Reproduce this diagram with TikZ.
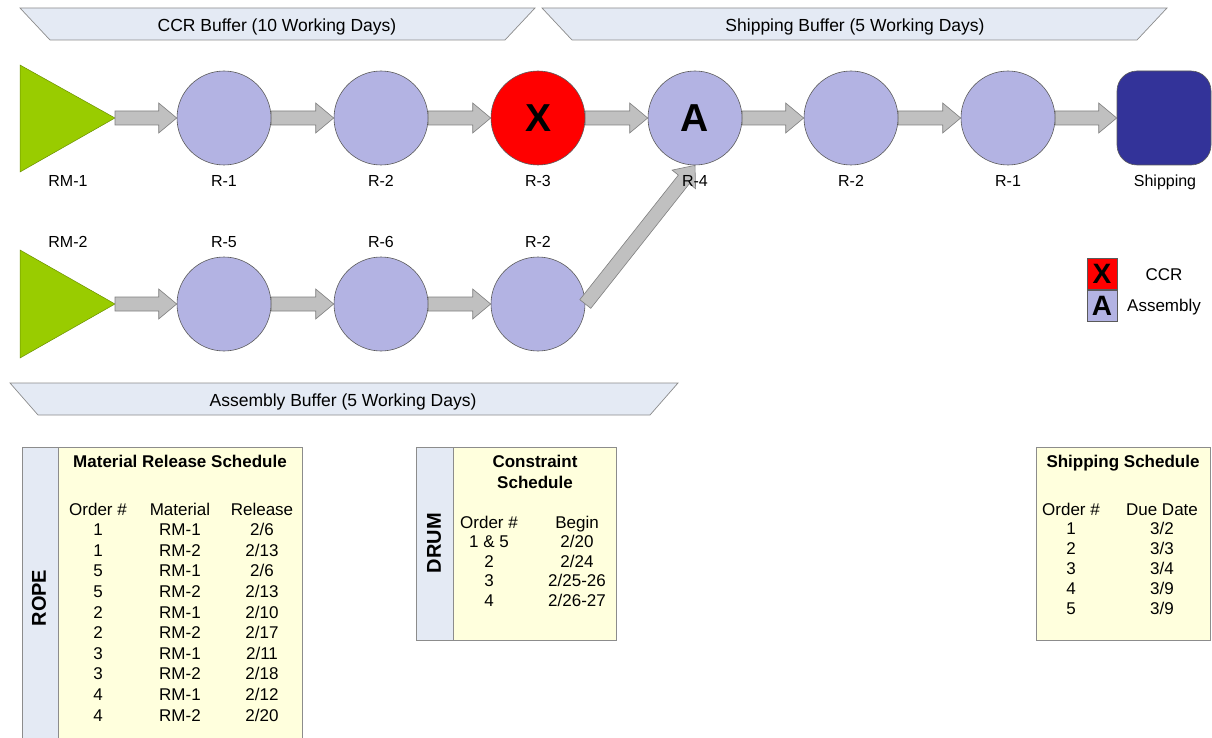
\documentclass[tikz,border=0pt]{standalone}
\usepackage{fontspec}
\setmainfont{Liberation Sans}
\usetikzlibrary{calc}
\definecolor{bannerfill}{HTML}{E4EAF4}
\definecolor{banneredge}{HTML}{8C8C8C}
\definecolor{rawgreen}{HTML}{99CC00}
\definecolor{lavender}{HTML}{B3B3E3}
\definecolor{navy}{HTML}{333399}
\definecolor{arrowfill}{HTML}{C0C0C0}
\definecolor{arrowedge}{HTML}{808080}
\definecolor{stationedge}{HTML}{5A5A5A}
\definecolor{tableyellow}{HTML}{FFFFDD}
\definecolor{tableedge}{HTML}{8C8C8C}

% block arrow from #1 to #2 (shaft half width 7, head half width 15, head length 18)
\newcommand\blockarr[2]{%
  \coordinate (ba-s) at (#1);
  \coordinate (ba-t) at (#2);
  \coordinate (ba-b) at ($(ba-t)!18pt!(ba-s)$);
  \draw[blockarrow]
    ($(ba-s)!7pt!90:(ba-t)$) -- ($(ba-b)!7pt!-90:(ba-s)$) --
    ($(ba-b)!15pt!-90:(ba-s)$) -- (ba-t) --
    ($(ba-b)!15pt!90:(ba-s)$) -- ($(ba-b)!7pt!90:(ba-s)$) --
    ($(ba-s)!7pt!-90:(ba-t)$) -- cycle;}

\begin{document}
\begin{tikzpicture}[x=1pt,y=-1pt,
  lbl/.style={anchor=base, inner sep=0pt, font=\fontsize{16}{19}\selectfont},
  bannertext/.style={anchor=base, inner sep=0pt, font=\fontsize{17.5}{20}\selectfont},
  tbl/.style={anchor=base, inner sep=0pt, font=\fontsize{17}{20}\selectfont},
  tblhead/.style={anchor=base, inner sep=0pt, font=\bfseries\fontsize{17}{20}\selectfont},
  sidelabel/.style={rotate=90, inner sep=0pt, font=\bfseries\fontsize{20}{24}\selectfont},
  station/.style={circle, minimum size=94pt, inner sep=0pt, draw=stationedge,
    line width=0.6pt, fill=lavender, font=\bfseries\fontsize{39}{44}\selectfont},
  banner/.style={fill=bannerfill, draw=banneredge, line width=0.7pt},
  material/.style={fill=rawgreen, draw=rawgreen!70!black, line width=0.5pt},
  blockarrow/.style={fill=arrowfill, draw=arrowedge, line width=0.6pt, line join=miter},
  legbox/.style={draw=stationedge, line width=0.6pt, minimum width=30pt,
    minimum height=31pt, inner sep=0pt, font=\bfseries\fontsize{28}{30}\selectfont},
  tablebox/.style={draw=tableedge, line width=0.7pt}]
\useasboundingbox (0,0) rectangle (1212,738);

% ---- buffers ----
\draw[banner] (20,8) -- (535,8) -- (505,40) -- (50,40) -- cycle;
\node[bannertext] (ccrbuf) at (277,32) {CCR Buffer (10 Working Days)};
\draw[banner] (542,8) -- (1167,8) -- (1137,40) -- (572,40) -- cycle;
\node[bannertext] (shipbuf) at (855,32) {Shipping Buffer (5 Working Days)};
\draw[banner] (10,383) -- (678,383) -- (650,415) -- (38,415) -- cycle;
\node[bannertext] (asmbuf) at (343,406) {Assembly Buffer (5 Working Days)};

% ---- main line ----
\draw[material] (20,65) -- (115,118) -- (20,172) -- cycle;
\coordinate (rm1) at (115,118);
\node[station] (r1) at (224,118) {};
\node[station] (r2) at (381,118) {};
\node[station, fill=red] (r3) at (538,118) {X};
\node[station] (r4) at (695,118) {A};
\node[station] (r2s) at (851,118) {};
\node[station] (r1s) at (1008,118) {};
\node[draw=stationedge, line width=0.6pt, fill=navy, minimum width=94pt,
  minimum height=94pt, rounded corners=20pt] (ship) at (1164,118) {};

% ---- feeder line ----
\draw[material] (20,250) -- (115,304) -- (20,358) -- cycle;
\coordinate (rm2) at (115,304);
\node[station] (r5) at (224,304) {};
\node[station] (r6) at (381,304) {};
\node[station] (r2a) at (538,304) {};

% ---- flow arrows ----
\blockarr{rm1}{r1.west}
\blockarr{r1.east}{r2.west}
\blockarr{r2.east}{r3.west}
\blockarr{r3.east}{r4.west}
\blockarr{r4.east}{r2s.west}
\blockarr{r2s.east}{r1s.west}
\blockarr{r1s.east}{ship.west}
\blockarr{rm2}{r5.west}
\blockarr{r5.east}{r6.west}
\blockarr{r6.east}{r2a.west}
\blockarr{r2a.east}{r4.south}

% ---- resource labels ----
\node[lbl] (l-rm1) at (68,187) {RM-1};
\node[lbl] (l-r1) at (224,187) {R-1};
\node[lbl] (l-r2) at (381,187) {R-2};
\node[lbl] (l-r3) at (538,187) {R-3};
\node[lbl] (l-r4) at (695,187) {R-4};
\node[lbl] (l-r2s) at (851,187) {R-2};
\node[lbl] (l-r1s) at (1008,187) {R-1};
\node[lbl] (l-ship) at (1165,187) {Shipping};
\node[lbl] (l-rm2) at (68,247) {RM-2};
\node[lbl] (l-r5) at (224,247) {R-5};
\node[lbl] (l-r6) at (381,247) {R-6};
\node[lbl] (l-r2a) at (538,247) {R-2};

% ---- legend ----
\node[legbox, fill=red] (legx) at (1102,274) {X};
\node[legbox, fill=lavender, anchor=north] (lega) at (legx.south) {A};
\node[tbl] (legccr) at (1164,280) {CCR};
\node[tbl] (legasm) at (1164,311) {Assembly};

% ---- rope: material release schedule ----
\fill[tableyellow] (58,447) rectangle (302,745);
\fill[bannerfill] (22,447) rectangle (58,745);
\draw[tablebox] (22,447) rectangle (302,745);
\draw[tablebox] (58,447) -- (58,745);
\node[sidelabel] (rope) at (39,598) {ROPE};
\node[tblhead] (ropehead) at (180,467) {Material Release Schedule};
\node[tbl] (rope-h1) at (98,515) {Order \#};
\node[tbl] (rope-h2) at (180,515) {Material};
\node[tbl] (rope-h3) at (262,515) {Release};
\foreach \o/\m/\r [count=\i] in {1/RM-1/{2/6},1/RM-2/{2/13},5/RM-1/{2/6},
    5/RM-2/{2/13},2/RM-1/{2/10},2/RM-2/{2/17},3/RM-1/{2/11},3/RM-2/{2/18},
    4/RM-1/{2/12},4/RM-2/{2/20}}{
  \node[tbl] (rope-o\i) at (98,{515+20.6*\i}) {\o};
  \node[tbl] (rope-m\i) at (180,{515+20.6*\i}) {\m};
  \node[tbl] (rope-r\i) at (262,{515+20.6*\i}) {\r};
}

% ---- drum: constraint schedule ----
\fill[tableyellow] (453,447) rectangle (616,640);
\fill[bannerfill] (416,447) rectangle (453,640);
\draw[tablebox] (416,447) rectangle (616,640);
\draw[tablebox] (453,447) -- (453,640);
\node[sidelabel] (drum) at (434,543) {DRUM};
\node[tblhead] (drumhead1) at (535,467) {Constraint};
\node[tblhead] (drumhead2) at (535,488) {Schedule};
\node[tbl] (drum-h1) at (489,528) {Order \#};
\node[tbl] (drum-h2) at (577,528) {Begin};
\foreach \o/\b [count=\i] in {1 \& 5/{2/20},2/{2/24},3/{2/25-26},4/{2/26-27}}{
  \node[tbl] (drum-o\i) at (489,{528+19.6*\i}) {\o};
  \node[tbl] (drum-b\i) at (577,{528+19.6*\i}) {\b};
}

% ---- shipping schedule ----
\fill[tableyellow] (1036,447) rectangle (1210,640);
\draw[tablebox] (1036,447) rectangle (1210,640);
\node[tblhead] (shiphead) at (1123,467) {Shipping Schedule};
\node[tbl] (ship-h1) at (1071,515) {Order \#};
\node[tbl] (ship-h2) at (1162,515) {Due Date};
\foreach \o/\d [count=\i] in {1/{3/2},2/{3/3},3/{3/4},4/{3/9},5/{3/9}}{
  \node[tbl] (ship-o\i) at (1071,{515+19.8*\i}) {\o};
  \node[tbl] (ship-d\i) at (1162,{515+19.8*\i}) {\d};
}
\end{tikzpicture}
\end{document}
